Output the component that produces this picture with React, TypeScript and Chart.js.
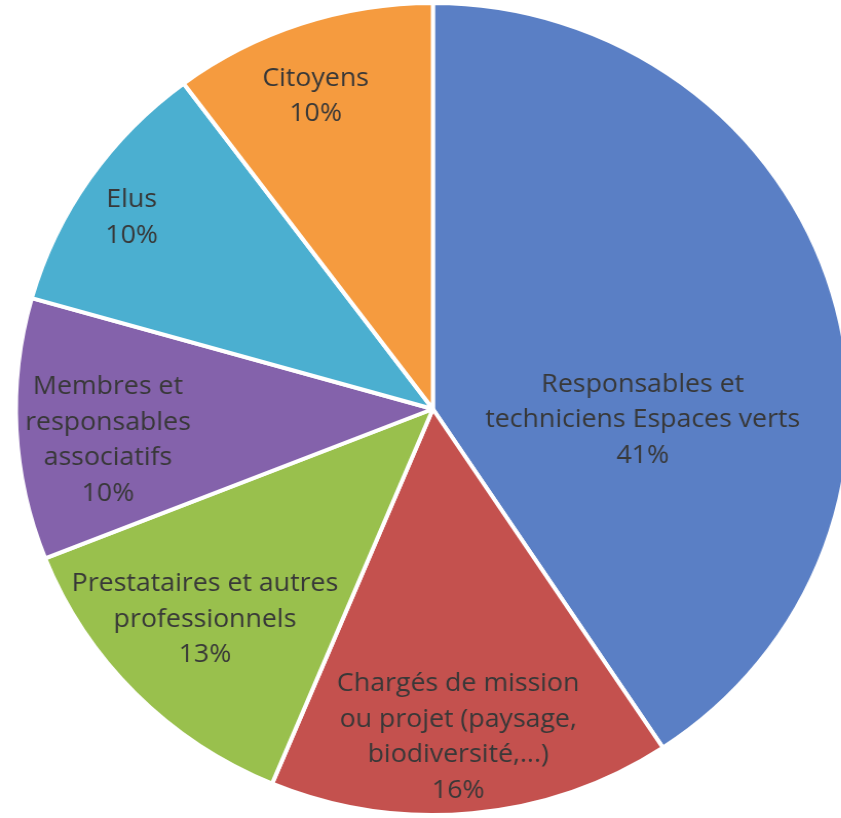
import React, { useEffect, useRef } from "react";
import { Chart, registerables } from "chart.js";

Chart.register(...registerables);

// ---- Data ----
const categories: string[][] = [
  ["Responsables et", "techniciens Espaces verts"],
  ["Chargés de mission", "ou projet (paysage,", "biodiversité,...)"],
  ["Prestataires et autres", "professionnels"],
  ["Membres et", "responsables", "associatifs"],
  ["Elus"],
  ["Citoyens"],
];
const values: number[] = [40.7, 15.6, 12.7, 10.4, 10.4, 10.2];
const colors: string[] = ["#5a7fc5", "#c4514e", "#99c04d", "#8462ab", "#4bafd0", "#f59b3f"];

// label placement: [angle offset in degrees from slice middle, radius fraction]
const labelPlacement: [number, number][] = [
  [19.8, 0.504],
  [1.1, 0.81],
  [1.0, 0.753],
  [-2.7, 0.783],
  [-1.4, 0.863],
  [-1.7, 0.82],
];

const labelPlugin = {
  id: "sliceLabels",
  afterDatasetsDraw(chart: any) {
    const ctx = chart.ctx;
    const meta = chart.getDatasetMeta(0);
    const data = chart.data.datasets[0].data as number[];
    const total = data.reduce((a, b) => a + b, 0);
    const R = meta.data[0].outerRadius;
    ctx.save();
    ctx.font = "26px 'Open Sans'";
    ctx.fillStyle = "#383838";
    ctx.textAlign = "center";
    ctx.textBaseline = "middle";
    const lineH = 35.5;
    meta.data.forEach((arc: any, i: number) => {
      const mid = (arc.startAngle + arc.endAngle) / 2;
      const [offDeg, frac] = labelPlacement[i];
      const th = mid + (offDeg * Math.PI) / 180;
      const cx = arc.x + Math.cos(th) * R * frac;
      const cy = arc.y + Math.sin(th) * R * frac;
      const lines = [...(chart.data.labels[i] as string[]), Math.round((data[i] / total) * 100) + "%"];
      const top = cy - ((lines.length - 1) * lineH) / 2;
      lines.forEach((ln, k) => ctx.fillText(ln, cx, top + k * lineH));
    });
    ctx.restore();
  },
};

export default function App() {
  const ref = useRef<HTMLCanvasElement>(null);
  useEffect(() => {
    if (!ref.current) return;
    const chart = new Chart(ref.current, {
      type: "pie",
      data: {
        labels: categories,
        datasets: [
          {
            data: values,
            backgroundColor: colors,
            borderColor: "#ffffff",
            borderWidth: 4,
            radius: 406,
          } as any,
        ],
      },
      options: {
        responsive: false,
        animation: false,
        layout: { padding: 0 },
        plugins: {
          legend: { display: false },
          tooltip: { enabled: false },
        },
      },
      plugins: [labelPlugin],
    });
    return () => chart.destroy();
  }, []);
  return (
    <div
      style={{
        position: "fixed",
        left: 0,
        top: 0,
        width: 841,
        height: 818,
        overflow: "hidden",
        background: "#ffffff",
      }}
    >
      <canvas
        ref={ref}
        width={843}
        height={818}
        style={{ display: "block", transform: "scaleX(1.027)", transformOrigin: "0 0" }}
      />
    </div>
  );
}
